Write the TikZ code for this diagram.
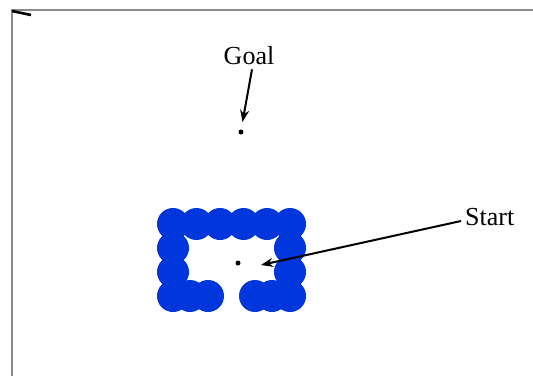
\documentclass[tikz,border=0pt]{standalone}
\usepackage{fontspec}
\setmainfont{Liberation Serif}
\usetikzlibrary{arrows.meta}
\definecolor{blob}{RGB}{0,55,220}
\definecolor{framegray}{RGB}{140,140,140}
\begin{document}
\begin{tikzpicture}[x=1pt,y=-1pt,
  lbl/.style={font=\fontsize{26}{26}\selectfont, inner sep=0pt},
  pt/.style={circle, fill=black, inner sep=0pt, minimum size=5pt},
  obst/.style={fill=blob},
  pointer/.style={line width=2pt, -{Stealth[length=12pt,width=9pt]}}]
\useasboundingbox (0,0) rectangle (533,376);
\fill[white] (0,0) rectangle (533,376);
% frame
\draw[framegray, line width=2pt] (533,9.5) -- (11.5,9.5) -- (11.5,376);
\draw[black, line width=2.6pt] (12,11) -- (31,15);
% obstacle
\foreach \x in {173,196.5,220,243.5,267,290} \fill[obst] (\x,224) circle (16);
\foreach \y in {248,272,296} {\fill[obst] (173,\y) circle (16); \fill[obst] (290,\y) circle (16);}
\foreach \x in {190,208} \fill[obst] (\x,296) circle (16);
\foreach \x in {255,272} \fill[obst] (\x,296) circle (16);
% points
\node[pt] (goal) at (241,132) {};
\node[pt] (start) at (238,263) {};
\node[lbl] (goaltxt) at (249,56) {Goal};
\node[lbl, anchor=west] (starttxt) at (465,217) {Start};
\coordinate (starttip) at (261,265);
\coordinate (goaltip) at (242.5,122);
\draw[pointer] (goaltxt.south) ++(3,4) -- (goaltip);
\draw[pointer] (starttxt.west) ++(-4,4) -- (starttip);
\end{tikzpicture}
\end{document}
